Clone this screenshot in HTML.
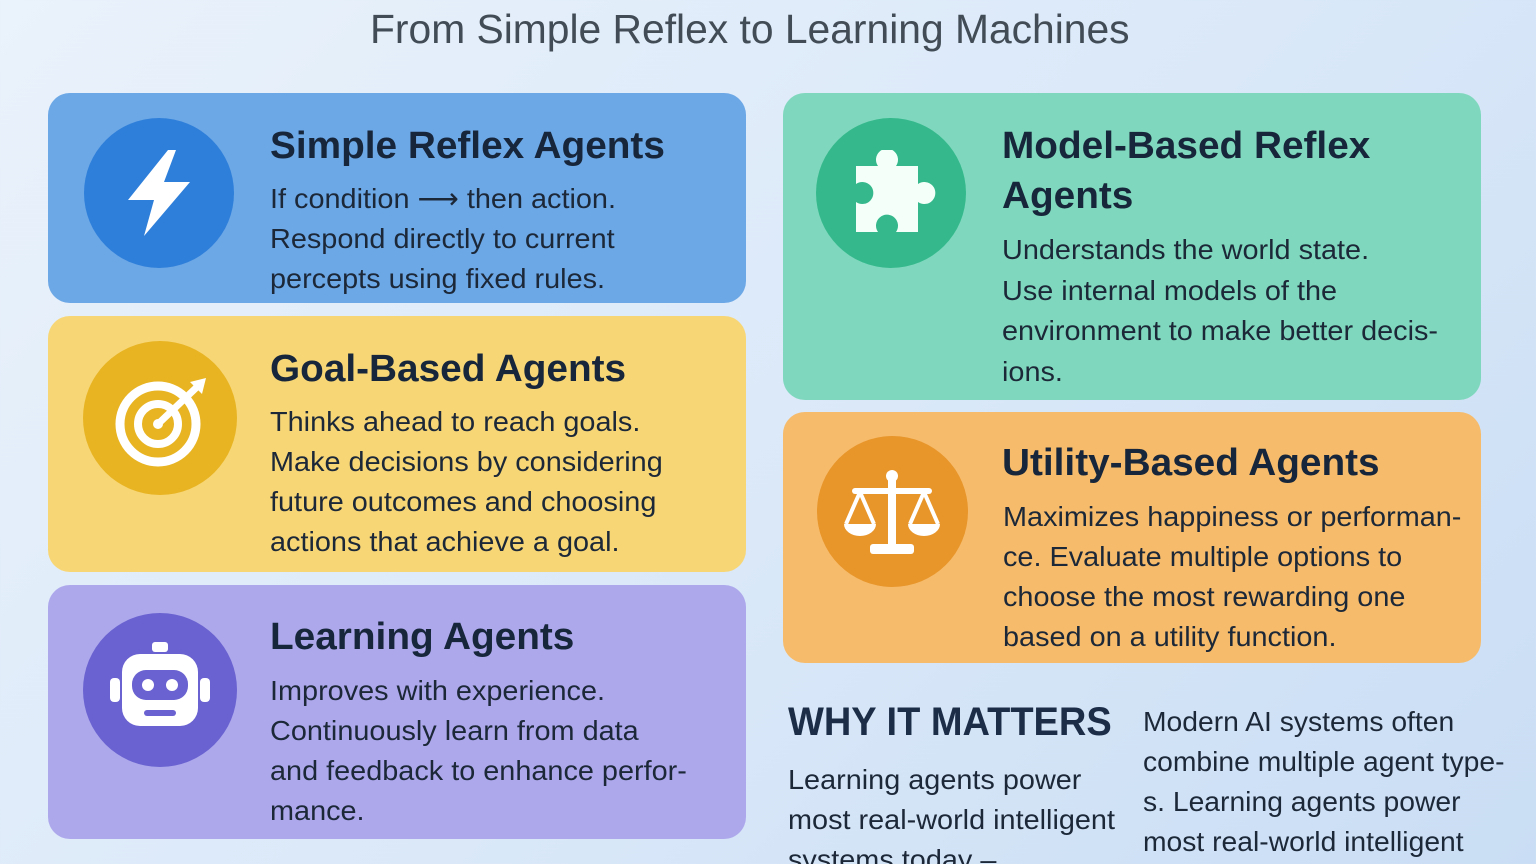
<!DOCTYPE html>
<html style="overflow:hidden;width:1536px;height:864px"><head><meta charset="utf-8"><style>
*{margin:0;padding:0;box-sizing:border-box}
body{width:1536px;height:864px;overflow:hidden;background:linear-gradient(135deg,#eaf2fb 0%,#d8e7f8 60%,#c9ddf4 100%);font-family:"Liberation Sans",sans-serif;position:relative}
.t{position:absolute;white-space:nowrap;transform-origin:left top}
.card{position:absolute;border-radius:22px}
.circ{position:absolute;border-radius:50%}
.h{font-weight:bold;font-size:38px;color:#17263a;line-height:50px;transform:scaleX(1.02)}
.b{font-size:28px;color:#1c2838;line-height:40px;transform:scaleX(1.03)}
</style></head><body>
<div class="t" style="left:370px;top:6px;font-size:41px;color:#414c56;transform:scaleX(0.995)">From Simple Reflex to Learning Machines</div>

<div class="card" style="left:48px;top:93px;width:698px;height:210px;background:#6ca7e6"></div>
<div class="circ" style="left:84px;top:118px;width:150px;height:150px;background:#2e7fda"></div>
<svg style="position:absolute;left:124px;top:150px" width="70" height="88" viewBox="0 0 70 88"><polygon points="44,0 4,50 30,50 20,86 66,32 40,32 52,0" fill="#fff"/></svg>
<div class="t h" style="left:270px;top:121px">Simple Reflex Agents</div>
<div class="t b" style="left:270px;top:179px">If condition ⟶ then action.<br>Respond directly to current<br>percepts using fixed rules.</div>

<div class="card" style="left:48px;top:316px;width:698px;height:256px;background:#f7d676"></div>
<div class="circ" style="left:83px;top:341px;width:154px;height:154px;background:#e8b422"></div>
<svg style="position:absolute;left:112px;top:378px" width="96" height="90" viewBox="0 0 96 90"><circle cx="46" cy="46" r="38" fill="none" stroke="#fff" stroke-width="9"/><circle cx="46" cy="46" r="20" fill="none" stroke="#fff" stroke-width="8"/><circle cx="46" cy="46" r="5" fill="#fff"/><line x1="46" y1="46" x2="86" y2="8" stroke="#fff" stroke-width="7"/><polygon points="78,4 94,0 90,16" fill="#fff"/></svg>
<div class="t h" style="left:270px;top:344px">Goal-Based Agents</div>
<div class="t b" style="left:270px;top:402px">Thinks ahead to reach goals.<br>Make decisions by considering<br>future outcomes and choosing<br>actions that achieve a goal.</div>

<div class="card" style="left:48px;top:585px;width:698px;height:254px;background:#ada8ec"></div>
<div class="circ" style="left:83px;top:613px;width:154px;height:154px;background:#6a62d0"></div>
<svg style="position:absolute;left:108px;top:640px" width="104" height="104" viewBox="0 0 104 104"><rect x="44" y="2" width="16" height="10" rx="3" fill="#fff"/><rect x="14" y="14" width="76" height="72" rx="18" fill="#fff"/><rect x="2" y="38" width="10" height="24" rx="4" fill="#fff"/><rect x="92" y="38" width="10" height="24" rx="4" fill="#fff"/><rect x="24" y="30" width="56" height="30" rx="14" fill="#6a62d0"/><circle cx="40" cy="45" r="6" fill="#fff"/><circle cx="64" cy="45" r="6" fill="#fff"/><rect x="36" y="70" width="32" height="6" rx="3" fill="#6a62d0"/></svg>
<div class="t h" style="left:270px;top:612px">Learning Agents</div>
<div class="t b" style="left:270px;top:671px">Improves with experience.<br>Continuously learn from data<br>and feedback to enhance perfor-<br>mance.</div>

<div class="card" style="left:783px;top:93px;width:698px;height:307px;background:#7fd8bd"></div>
<div class="circ" style="left:816px;top:118px;width:150px;height:150px;background:#35b98c"></div>
<svg style="position:absolute;left:852px;top:150px" width="84" height="84" viewBox="0 0 84 84"><path d="M4,16 H26 A11,11 0 1 1 44,16 H66 V34 A11,11 0 1 1 66,52 V82 H44 A11,11 0 1 0 26,82 H4 V52 A11,11 0 1 0 4,34 Z" fill="#f4fff9"/></svg>
<div class="t h" style="left:1002px;top:121px">Model-Based Reflex<br>Agents</div>
<div class="t b" style="left:1002px;top:230px;line-height:40.5px">Understands the world state.<br>Use internal models of the<br>environment to make better decis-<br>ions.</div>

<div class="card" style="left:783px;top:412px;width:698px;height:251px;background:#f6bb6b"></div>
<div class="circ" style="left:817px;top:436px;width:151px;height:151px;background:#e8952a"></div>
<svg style="position:absolute;left:840px;top:468px" width="104" height="90" viewBox="0 0 104 90"><circle cx="52" cy="8" r="6" fill="#fff"/><rect x="48" y="10" width="8" height="66" fill="#fff"/><rect x="12" y="20" width="80" height="6" rx="3" fill="#fff"/><rect x="30" y="76" width="44" height="10" rx="3" fill="#fff"/><path d="M20,24 L6,56 M20,24 L34,56" stroke="#fff" stroke-width="4" fill="none"/><path d="M4,56 H36 A16,12 0 0 1 4,56Z" fill="#fff"/><path d="M84,24 L70,56 M84,24 L98,56" stroke="#fff" stroke-width="4" fill="none"/><path d="M68,56 H100 A16,12 0 0 1 68,56Z" fill="#fff"/></svg>
<div class="t h" style="left:1002px;top:438px">Utility-Based Agents</div>
<div class="t b" style="left:1003px;top:497px">Maximizes happiness or performan-<br>ce. Evaluate multiple options to<br>choose the most rewarding one<br>based on a utility function.</div>

<div class="t" style="left:788px;top:700px;font-size:40px;font-weight:bold;color:#1b2d47;transform:scaleX(0.95)">WHY IT MATTERS</div>
<div class="t b" style="left:788px;top:760px">Learning agents power<br>most real-world intelligent<br>systems today –</div>
<div class="t b" style="left:1143px;top:702px;transform:scaleX(1.01)">Modern AI systems often<br>combine multiple agent type-<br>s. Learning agents power<br>most real-world intelligent</div>
</body></html>
